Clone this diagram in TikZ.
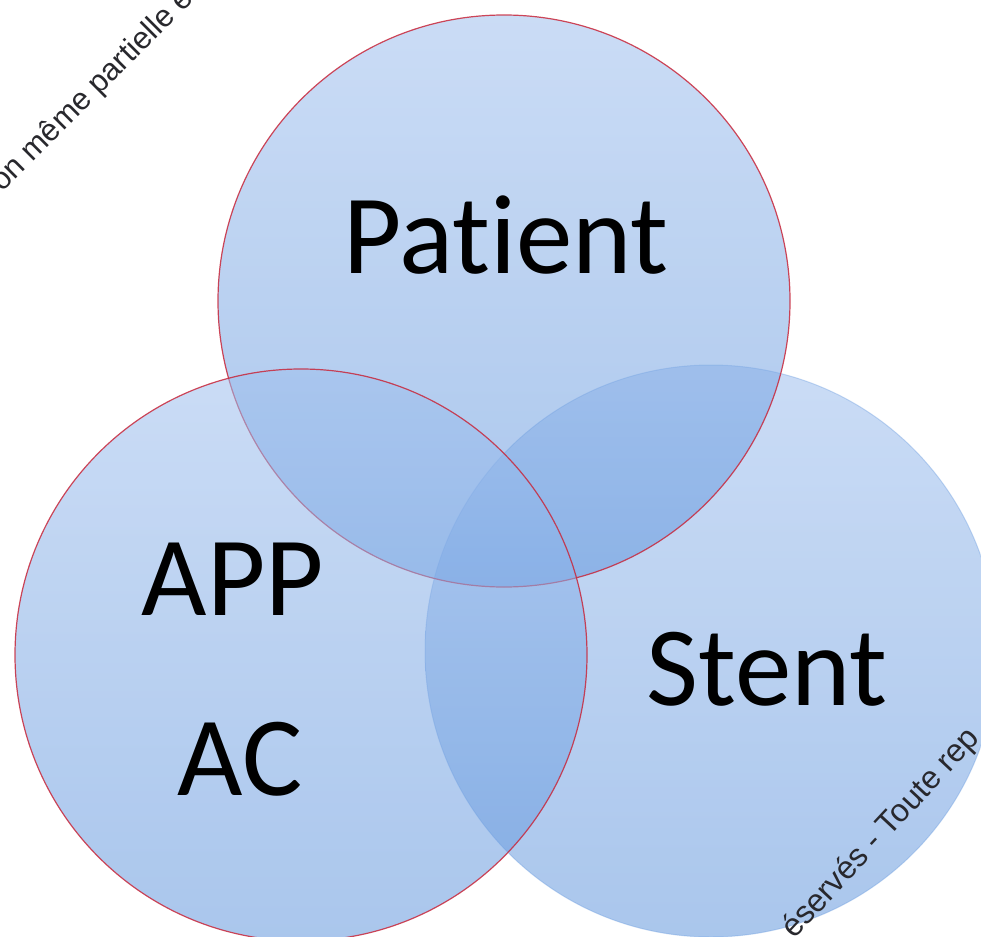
\documentclass[tikz,border=0pt]{standalone}
\usepackage{fontspec}
\setmainfont{Carlito}[Ligatures=NoCommon]
\newfontfamily\wmfont{Liberation Sans}
\definecolor{vtop}{RGB}{160,192,238}
\definecolor{vbot}{RGB}{100,152,222}
\definecolor{vred}{RGB}{200,40,60}
\definecolor{wmgray}{RGB}{40,40,45}
\begin{document}
\begin{tikzpicture}[x=1pt,y=-1pt,
  venn/.style={circle, minimum size=572pt, inner sep=0pt,
    top color=vtop, bottom color=vbot, fill opacity=0.55},
  redring/.style={draw=vred, line width=1.2pt, draw opacity=0.85},
  bluering/.style={draw=vbot, line width=1pt, draw opacity=0.35},
  label/.style={font=\fontsize{113}{113}\selectfont, text=black, anchor=base, inner sep=0pt},
  wm/.style={font=\wmfont\fontsize{31}{31}\selectfont, text=wmgray,
    anchor=base west, inner sep=0pt}]
\useasboundingbox (0,0) rectangle (981,936);
\fill[white] (0,0) rectangle (981,936);
\begin{scope}
  \clip (0,0) rectangle (981,936);
  % the three sets, back to front
  \node[venn, bluering] (stent) at (711,651) {};
  \node[venn, redring] (patient) at (504,301) {};
  \node[venn, redring] (app) at (301,655) {};
  % set names
  \node[label] (tpatient) at (506,273) {Patient};
  \node[label] (tapp) at (233,615) {APP};
  \node[label] (tac) at (240,795) {AC};
  \node[label] (tstent) at (767,705) {Stent};
  % copyright line running across the corners
  \node[wm, rotate=45] (wmtl) at (2,193) {on même partielle es};
  \node[wm, rotate=47, font=\wmfont\fontsize{32}{32}\selectfont] (wmbr) at (794,940) {éservés - Toute rep};
\end{scope}
\end{tikzpicture}
\end{document}
